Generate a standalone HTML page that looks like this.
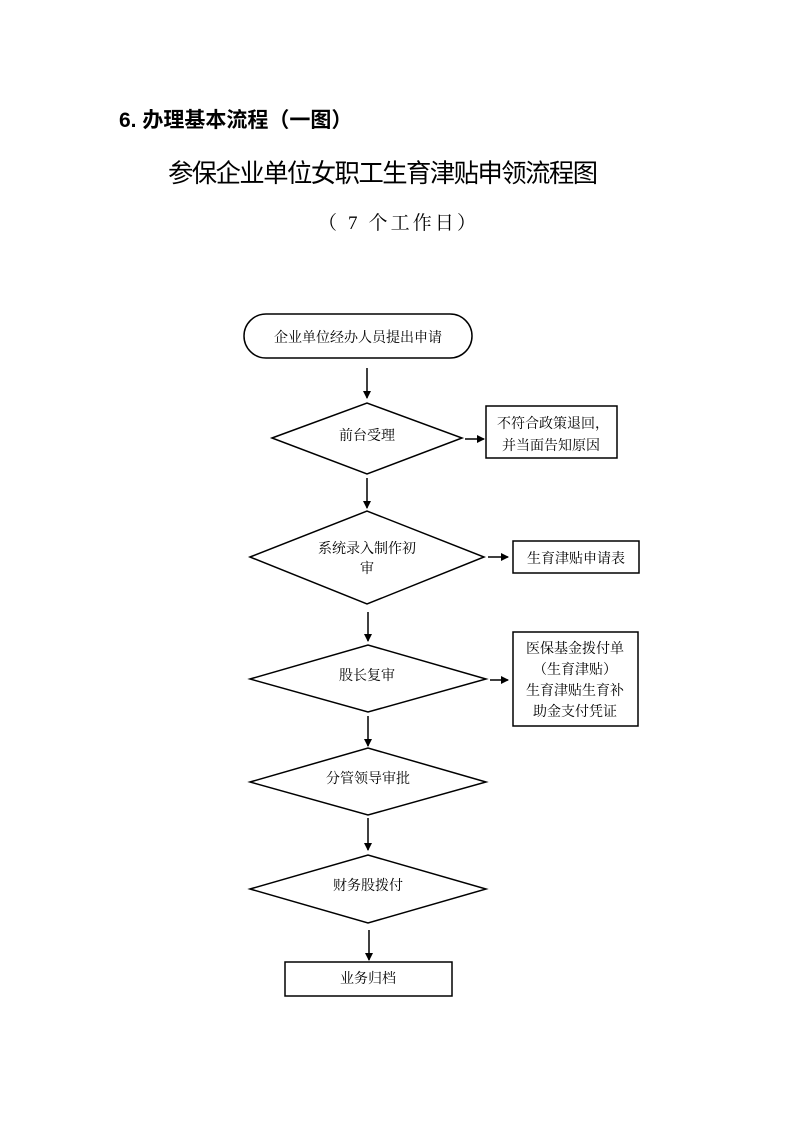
<!DOCTYPE html>
<html><head><meta charset="utf-8"><style>
html,body{margin:0;padding:0;background:#fff;}
svg{display:block}
</style></head><body>
<svg width="793" height="1122" viewBox="0 0 793 1122" xmlns="http://www.w3.org/2000/svg">
<defs><marker id="a" markerWidth="8" markerHeight="8" refX="7" refY="4" orient="auto" markerUnits="userSpaceOnUse"><path d="M0,0 L8,4 L0,8 z" fill="#000"/></marker></defs>
<text x="119" y="127" font-family="'Liberation Sans','Noto Sans CJK SC',sans-serif" font-weight="bold" font-size="21" fill="#000">6. 办理基本流程（一图）</text>
<text x="168" y="182" font-family="'Liberation Sans','Noto Sans CJK SC',sans-serif" font-size="25.3" fill="#000" textLength="430">参保企业单位女职工生育津贴申领流程图</text>
<text x="318" y="229" font-family="'Liberation Serif','Noto Serif CJK SC',serif" font-size="19" fill="#000" textLength="158">（ 7 个工作日）</text>
<g fill="none" stroke="#000" stroke-width="1.5">
<rect x="244" y="314" width="228" height="44" rx="22"/>
<polygon points="272,438 367,403 462,438 367,474"/>
<rect x="486" y="406" width="131" height="52"/>
<polygon points="250,557 367,511 484,557 367,604"/>
<rect x="513" y="541" width="126" height="32"/>
<polygon points="250,679 368,645 486,679 368,712"/>
<rect x="513" y="632" width="125" height="94"/>
<polygon points="250,782 368,748 486,782 368,815"/>
<polygon points="250,889 368,855 486,889 368,923"/>
<rect x="285" y="962" width="167" height="34"/>
</g>
<g stroke="#000" stroke-width="1.5" marker-end="url(#a)">
<line x1="367" y1="368" x2="367" y2="398"/>
<line x1="465" y1="439" x2="484" y2="439"/>
<line x1="367" y1="478" x2="367" y2="508"/>
<line x1="488" y1="557" x2="508" y2="557"/>
<line x1="368" y1="612" x2="368" y2="641"/>
<line x1="490" y1="680" x2="508" y2="680"/>
<line x1="368" y1="716" x2="368" y2="746"/>
<line x1="368" y1="818" x2="368" y2="850"/>
<line x1="369" y1="930" x2="369" y2="960"/>
</g>
<g font-family="'Liberation Serif','Noto Serif CJK SC',serif" font-size="14" fill="#000" text-anchor="middle">
<text x="358" y="342">企业单位经办人员提出申请</text>
<text x="367" y="440">前台受理</text>
<text x="553" y="428">不符合政策退回，</text>
<text x="551" y="450">并当面告知原因</text>
<text x="367" y="553">系统录入制作初</text>
<text x="367" y="573">审</text>
<text x="576" y="563">生育津贴申请表</text>
<text x="367" y="680">股长复审</text>
<text x="575" y="653">医保基金拨付单</text>
<text x="575" y="674">（生育津贴）</text>
<text x="575" y="695">生育津贴生育补</text>
<text x="575" y="716">助金支付凭证</text>
<text x="368" y="783">分管领导审批</text>
<text x="368" y="890">财务股拨付</text>
<text x="368" y="983">业务归档</text>
</g>
</svg>
</body></html>
